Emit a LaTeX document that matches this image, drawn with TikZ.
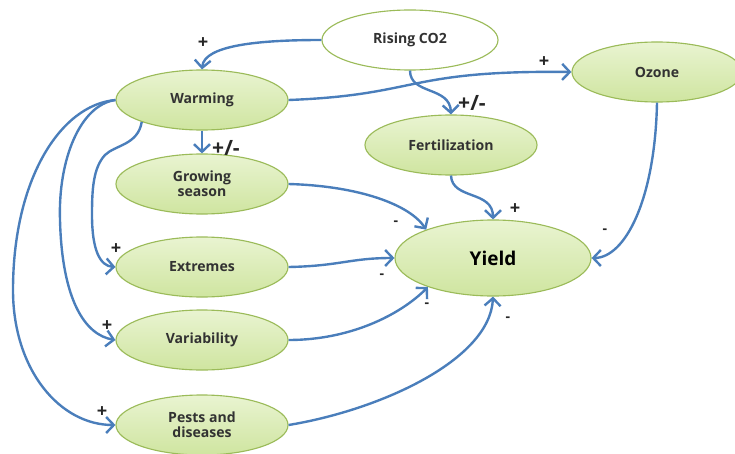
\documentclass[tikz,border=0pt]{standalone}
\usepackage{fontspec}
\setmainfont{Open Sans}
\usetikzlibrary{arrows.meta,shapes.geometric}
\definecolor{leafedge}{RGB}{155,187,89}
\definecolor{leaftop}{RGB}{233,244,209}
\definecolor{leafbot}{RGB}{207,229,160}
\definecolor{flowblue}{RGB}{74,126,187}
\definecolor{inktext}{RGB}{50,50,50}
\tikzset{
  leaf/.style={ellipse, draw=leafedge, line width=0.8pt, minimum width=4.3cm, minimum height=1.5cm,
    inner sep=0pt, align=center, text=inktext, font=\bfseries\fontsize{10}{10.5}\selectfont},
  blob/.style={leaf, top color=leaftop, bottom color=leafbot},
  plain/.style={leaf, fill=white},
  flow/.style={-{Straight Barb[length=1.9mm,width=4mm]}, line width=1.7pt, flowblue},
  sign/.style={text=black!85, inner sep=0pt, font=\bfseries\fontsize{10}{10}\selectfont},
  plus/.style={sign, font=\bfseries\fontsize{13}{13}\selectfont},
  bigsign/.style={sign, font=\bfseries\fontsize{15}{15}\selectfont},
}

\begin{document}
\begin{tikzpicture}[x=0.025cm, y=-0.025cm]
    \useasboundingbox (0,0) rectangle (735,453);
    % drivers
    \node[plain, minimum width=4.4cm] (co2) at (410,40) {Rising CO2};
    \node[blob] (warm) at (202,100) {Warming};
    \node[blob, minimum width=4.25cm] (ozone) at (657,72) {Ozone};
    \node[blob] (fert) at (451,145) {Fertilization};
    % effects of warming
    \node[blob] (gs) at (202,184) {Growing\\season};
    \node[blob] (ext) at (202,267) {Extremes};
    \node[blob] (var) at (202,340) {Variability};
    \node[blob] (pests) at (202,425) {Pests and\\diseases};
    % outcome
    \node[blob, minimum width=4.9cm, minimum height=1.9cm, text=black,
      font=\bfseries\fontsize{13.5}{15}\selectfont] (yield) at (493,258) {Yield};
    % links from rising CO2
    \draw[flow] (co2.west) .. controls (260,40) and (204,45) .. (warm.north);
    \draw[flow] (co2.south) .. controls (410,95) and (450,86) .. (fert.north);
    % links from warming
    \draw[flow] (warm.east) .. controls (420,95) and (405,70) .. (ozone.west);
    \draw[flow] (warm.south) -- (gs.north);
    \draw[flow] (warm.200) .. controls (138,145) and (115,145) .. (105,155)
      .. controls (93,168) and (92,190) .. (92,215) .. controls (92,250) and (100,266) .. (ext.west);
    \draw[flow] (warm.west) .. controls (80,105) and (58,160) .. (60,220)
      .. controls (62,300) and (85,335) .. (var.west);
    \draw[flow] (warm.west) .. controls (60,105) and (13,180) .. (13,290)
      .. controls (13,370) and (60,425) .. (pests.west);
    % links into yield
    \draw[flow] (gs.east) .. controls (360,186) and (410,205) .. (yield.157);
    \draw[flow] (ext.east) .. controls (340,266) and (350,258) .. (yield.west);
    \draw[flow] (var.east) .. controls (350,340) and (400,315) .. (yield.204);
    \draw[flow] (pests.east) .. controls (380,410) and (490,360) .. (yield.south);
    \draw[flow] (fert.south) .. controls (452,200) and (493,190) .. (yield.north);
    \draw[flow] (ozone.south) .. controls (655,200) and (625,258) .. (yield.east);
    % signs
    \node[plus] (pco2warm) at (203,43) {+};
    \node[bigsign] (pco2fert) at (472,103) {+/-};
    \node[plus] (pwarmoz) at (544,62) {+};
    \node[bigsign] (pwarmgs) at (226,148) {+/-};
    \node[plus] (pwarmext) at (116,249) {+};
    \node[plus] (pwarmvar) at (107,326) {+};
    \node[plus] (pwarmpest) at (102,412) {+};
    \node[sign] (mgs) at (396,223) {-};
    \node[sign] (mext) at (382,276) {-};
    \node[sign] (mvar) at (427,305) {-};
    \node[sign] (mpest) at (508,319) {-};
    \node[plus] (pfert) at (515,209) {+};
    \node[sign] (moz) at (605,231) {-};
\end{tikzpicture}
\end{document}
